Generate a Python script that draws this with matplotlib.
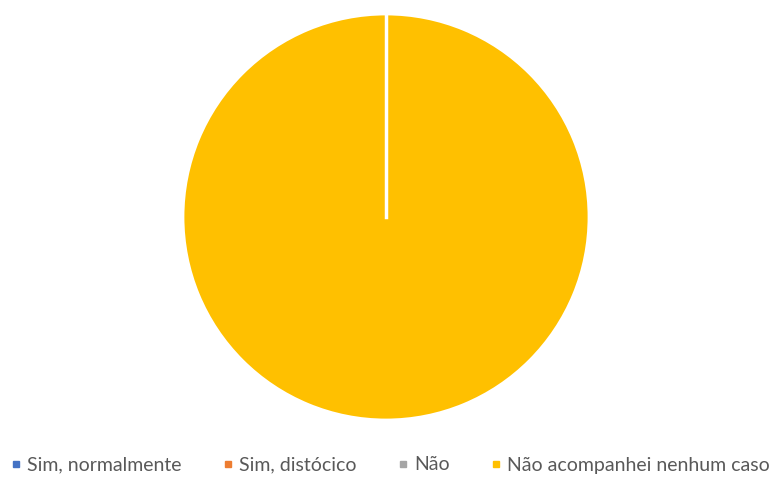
import numpy as np
import matplotlib.pyplot as plt
from matplotlib.lines import Line2D

labels = ["Sim, normalmente", "Sim, distócico", "Não", "Não acompanhei nenhum caso"]
values = [0, 0, 0, 100]
colors = ["#4472C4", "#ED7D31", "#A5A5A5", "#FFC000"]
start_angle = 90

plt.rcParams["font.family"] = ["Lato", "DejaVu Sans"]

fig = plt.figure(figsize=(7.73, 4.78), dpi=100)

# pie area (centre ~ (386, 217), radius ~203 px)
ax = fig.add_axes([(386 - 203) / 773, (478 - 420) / 478, 406 / 773, 406 / 478])
ax.pie(values, colors=colors, startangle=start_angle, counterclock=False,
       wedgeprops=dict(edgecolor="white", linewidth=2))
# zero-size slices still leave a white border at the start angle
a = np.deg2rad(start_angle)
ax.plot([0, np.cos(a)], [0, np.sin(a)], color="white", linewidth=2.5)
ax.set_aspect("equal")
ax.set_xlim(-1.0, 1.0)
ax.set_ylim(-1.0, 1.0)
ax.axis("off")

# legend with small square markers
handles = [Line2D([0], [0], marker="s", linestyle="none", markersize=4,
                  markerfacecolor=c, markeredgecolor=c) for c in colors]
fig.legend(handles, labels, loc="center",
           bbox_to_anchor=(0.5 + 4 / 773, 1 - 465 / 478),
           ncol=4, frameon=False, fontsize=14, handlelength=0.45,
           handletextpad=0.35, columnspacing=2.15, labelcolor="#595959")

plt.savefig("out.png")
